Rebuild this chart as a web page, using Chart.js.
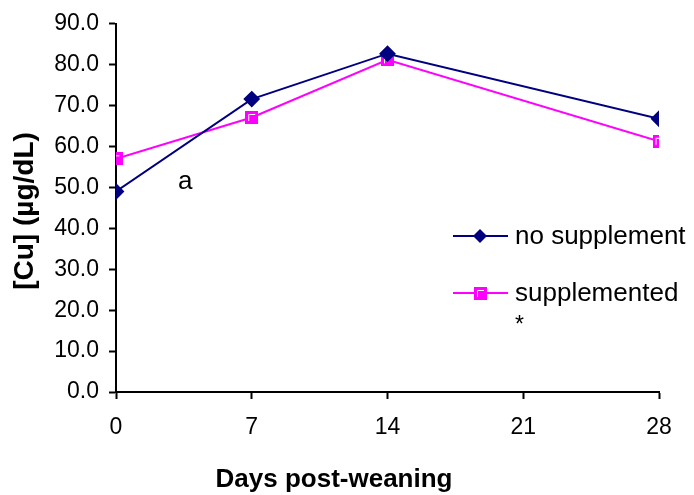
<!DOCTYPE html>
<html>
<head>
<meta charset="utf-8">
<script src="https://cdn.jsdelivr.net/npm/chart.js@4/dist/chart.umd.min.js"></script>
<style>
  html, body { margin: 0; padding: 0; background: #fff; }
  #wrap { width: 694px; height: 495px; }
</style>
</head>
<body>
<div id="wrap"><canvas id="cu" width="694" height="495"></canvas></div>
<script>
const DAYS = [0, 7, 14, 28];
const NO_SUPPLEMENT = [49.0, 71.6, 82.7, 66.8];
const SUPPLEMENTED = [57.0, 67.1, 81.2, 61.3];
const X_TICKS = [0, 7, 14, 21, 28];

const FONT = 'Arial, "Liberation Sans", sans-serif';
const NAVY = '#000080';
const MAGENTA = '#FF00FF';

Chart.defaults.font.family = FONT;
Chart.defaults.color = '#000';

// excel-ish square marker with the little white highlight
const squareMarker = (() => {
  const c = document.createElement('canvas');
  c.width = 13; c.height = 13;
  const g = c.getContext('2d');
  g.fillStyle = MAGENTA;
  g.fillRect(0, 0, 13, 13);
  g.strokeStyle = '#fff';
  g.lineWidth = 1;
  g.beginPath();
  g.moveTo(3.5, 10);
  g.lineTo(3.5, 3.5);
  g.lineTo(10, 3.5);
  g.stroke();
  return c;
})();

const toPoints = (ys) => DAYS.map((d, i) => ({ x: d, y: ys[i] }));

// legend, notes and axis titles drawn by hand
const annotations = {
  id: 'annotations',
  afterDraw(chart) {
    const ctx = chart.ctx;
    ctx.save();
    ctx.fillStyle = '#000';
    ctx.textBaseline = 'middle';

    // legend
    const items = [
      { label: 'no supplement', color: NAVY, y: 236, diamond: true },
      { label: 'supplemented', color: MAGENTA, y: 293, diamond: false },
    ];
    items.forEach((it) => {
      ctx.strokeStyle = it.color;
      ctx.lineWidth = 2;
      ctx.beginPath();
      ctx.moveTo(453, it.y);
      ctx.lineTo(508, it.y);
      ctx.stroke();
      if (it.diamond) {
        ctx.fillStyle = NAVY;
        ctx.beginPath();
        ctx.moveTo(480, it.y - 7);
        ctx.lineTo(487, it.y);
        ctx.lineTo(480, it.y + 7);
        ctx.lineTo(473, it.y);
        ctx.closePath();
        ctx.fill();
      } else {
        ctx.drawImage(squareMarker, 474, it.y - 6);
      }
      ctx.fillStyle = '#000';
      ctx.font = '26px ' + FONT;
      ctx.textAlign = 'left';
      ctx.fillText(it.label, 515, it.y + 1);
    });
    ctx.font = '23px ' + FONT;
    ctx.fillText('*', 515, 326);

    ctx.font = '26px ' + FONT;
    ctx.fillText('a', 178, 182);

    // axis titles
    ctx.textAlign = 'center';
    ctx.font = 'bold 26px ' + FONT;
    ctx.fillText('Days post-weaning', 334, 480);
    ctx.font = 'bold 28px ' + FONT;
    ctx.translate(25, 211);
    ctx.rotate(-Math.PI / 2);
    ctx.fillText('[Cu] (\u00b5g/dL)', 0, 0);
    ctx.restore();
  },
};

new Chart(document.getElementById('cu'), {
  type: 'line',
  data: {
    datasets: [
      {
        label: 'no supplement',
        data: toPoints(NO_SUPPLEMENT),
        borderColor: NAVY,
        backgroundColor: NAVY,
        borderWidth: 2,
        pointStyle: 'rectRot',
        pointRadius: 7,
        pointHoverRadius: 7,
        tension: 0,
      },
      {
        label: 'supplemented',
        data: toPoints(SUPPLEMENTED),
        borderColor: MAGENTA,
        backgroundColor: MAGENTA,
        borderWidth: 2,
        pointStyle: squareMarker,
        tension: 0,
      },
    ],
  },
  options: {
    responsive: false,
    animation: false,
    layout: { padding: { left: 0, right: 35, top: 22, bottom: 0 } },
    plugins: {
      legend: { display: false },
      tooltip: { enabled: false },
    },
    scales: {
      x: {
        type: 'linear',
        min: 0,
        max: 28,
        afterBuildTicks: (axis) => {
          axis.ticks = X_TICKS.map((v) => ({ value: v }));
        },
        afterFit: (axis) => { axis.height = 103; },
        grid: {
          drawOnChartArea: false,
          drawTicks: true,
          tickLength: 7,
          tickWidth: 2,
          tickColor: '#000',
        },
        border: { color: '#000', width: 2 },
        ticks: { font: { size: 23 }, padding: 15, maxRotation: 0 },
      },
      y: {
        min: 0,
        max: 90,
        afterFit: (axis) => { axis.width = 116; },
        grid: {
          drawOnChartArea: false,
          drawTicks: true,
          tickLength: 7,
          tickWidth: 2,
          tickColor: '#000',
        },
        border: { color: '#000', width: 2 },
        ticks: {
          stepSize: 10,
          font: { size: 23 },
          padding: 10,
          callback: (v) => v.toFixed(1),
        },
      },
    },
  },
  plugins: [annotations],
});
</script>
</body>
</html>
